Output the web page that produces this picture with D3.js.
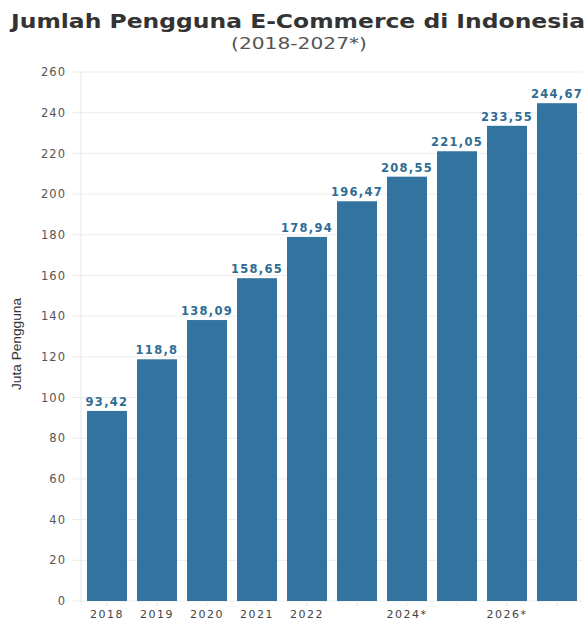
<!DOCTYPE html>
<html><head><meta charset="utf-8">
<script src="https://cdn.jsdelivr.net/npm/d3@7"></script>
<style>body{margin:0;background:#fff}svg{display:block}</style>
</head><body><svg id="c" width="588" height="621"></svg>
<script>
const categories = ["2018","2019","2020","2021","2022","2023*","2024*","2025*","2026*","2027*"];
const values = [93.42,118.8,138.09,158.65,178.94,196.47,208.55,221.05,233.55,244.67];
const valueLabels = ["93,42","118,8","138,09","158,65","178,94","196,47","208,55","221,05","233,55","244,67"];
const shownTicks = ["2018","2019","2020","2021","2022","2024*","2026*"];
const yTicks = [0,20,40,60,80,100,120,140,160,180,200,220,240,260];

const svg = d3.select("#c");
const x = d3.scaleBand().domain(categories).range([82,582]).paddingInner(0.2).paddingOuter(0.1);
const y = d3.scaleLinear().domain([0,260]).range([601,72]);

// gridlines
svg.append("g").selectAll("line").data(yTicks).join("line")
  .attr("x1",72).attr("x2",582).attr("y1",d=>y(d)).attr("y2",d=>y(d))
  .attr("stroke","#ececec").attr("stroke-width",1);
svg.append("line").attr("x1",81).attr("x2",81).attr("y1",72).attr("y2",605)
  .attr("stroke","#e6e6e6");

// y axis
const ya = svg.append("g").attr("transform","translate(72,0)")
  .call(d3.axisLeft(y).tickValues(yTicks).tickSize(0).tickPadding(6));
ya.select(".domain").remove();
ya.selectAll("text").attr("font-family","DejaVu Sans").attr("font-size",11.5)
  .attr("fill","#555").attr("letter-spacing","1px");

// x axis
const xa = svg.append("g").attr("transform","translate(0,603)")
  .call(d3.axisBottom(x).tickSize(3).tickPadding(4).tickFormat(d=>shownTicks.includes(d)?d:""));
xa.select(".domain").remove();
xa.selectAll("line").attr("stroke","#e0e0e0");
xa.selectAll("text").attr("font-family","DejaVu Sans").attr("font-size",11)
  .attr("fill","#444").attr("letter-spacing","1.5px").attr("dy","0.75em");

// bars
svg.append("g").selectAll("rect").data(values).join("rect")
  .attr("x",(d,i)=>x(categories[i])).attr("width",x.bandwidth())
  .attr("y",d=>y(d)).attr("height",d=>y(0)-y(d)).attr("fill","#33739f");

// value labels
svg.append("g").selectAll("text").data(values).join("text")
  .attr("x",(d,i)=>x(categories[i])+x.bandwidth()/2).attr("y",d=>y(d)-5)
  .attr("text-anchor","middle").attr("font-family","DejaVu Sans").attr("font-weight","bold")
  .attr("font-size",11.5).attr("letter-spacing","1.3px").attr("fill","#2f6c94")
  .text((d,i)=>valueLabels[i]);

// titles
svg.append("text").attr("x",298).attr("y",28).attr("text-anchor","middle")
  .attr("font-family","DejaVu Sans").attr("font-weight","bold").attr("font-size",20)
  .attr("textLength",574).attr("lengthAdjust","spacingAndGlyphs")
  .attr("fill","#333").text("Jumlah Pengguna E-Commerce di Indonesia");
svg.append("text").attr("x",299).attr("y",49).attr("text-anchor","middle")
  .attr("font-family","DejaVu Sans").attr("font-size",15)
  .attr("textLength",136).attr("lengthAdjust","spacingAndGlyphs")
  .attr("fill","#555").text("(2018-2027*)");

// y label
svg.append("text").attr("transform","translate(21,344) rotate(-90)").attr("text-anchor","middle")
  .attr("font-family","Liberation Sans").attr("font-size",13)
  .attr("textLength",92).attr("lengthAdjust","spacingAndGlyphs")
  .attr("fill","#333").text("Juta Pengguna");
</script></body></html>
